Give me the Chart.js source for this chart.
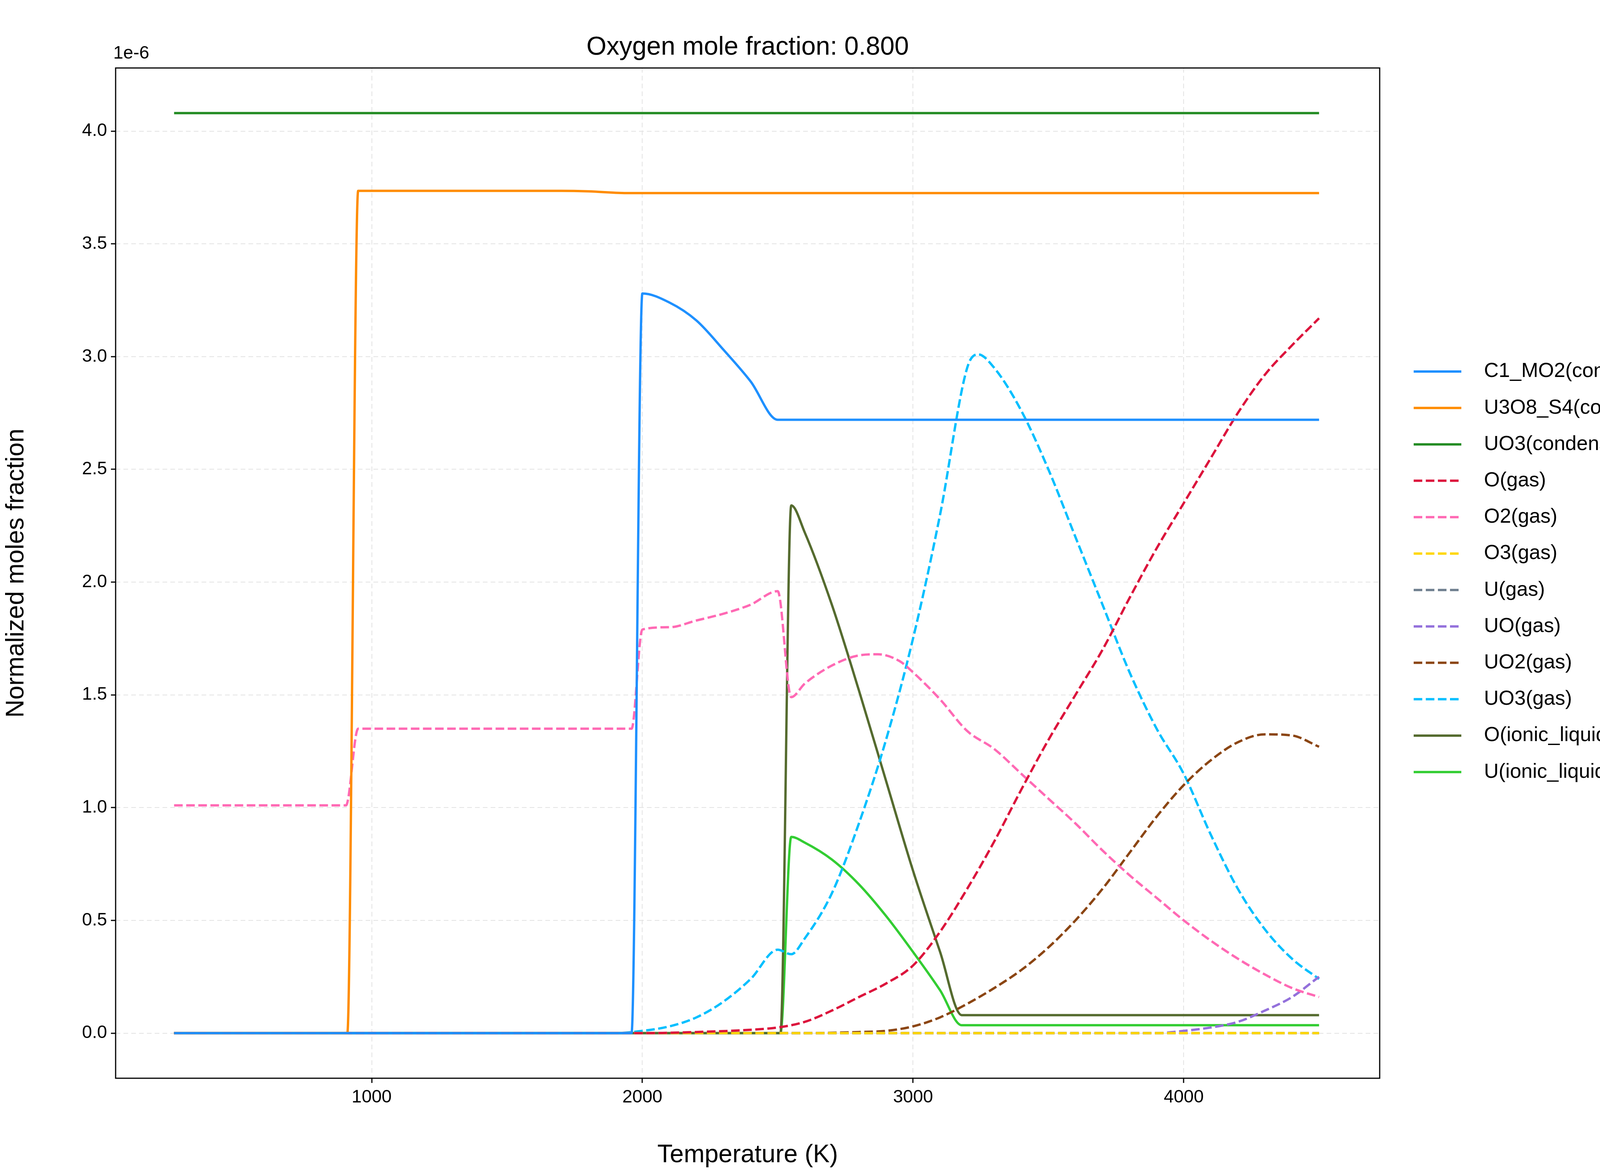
<!DOCTYPE html>
<html><head><meta charset="utf-8">
<script src="https://cdn.jsdelivr.net/npm/chart.js@4"></script>
<style>html,body{margin:0;padding:0;background:#fff;overflow:hidden;width:4500px;height:3000px}#w{width:4500px;height:3000px}canvas{display:block}</style>
</head><body><div id="w"><canvas id="c" width="4500" height="3000" style="width:4500px;height:3000px"></canvas></div>
<script>
const xTicks=[1000,2000,3000,4000];
const yTicks=[0,0.5,1,1.5,2,2.5,3,3.5,4];
const names=["C1_MO2(condensed)","U3O8_S4(condensed)","UO3(condensed)","O(gas)","O2(gas)","O3(gas)","U(gas)","UO(gas)","UO2(gas)","UO3(gas)","O(ionic_liquid)","U(ionic_liquid)"];
const colors=["#1E90FF","#FF8C00","#228B22","#DC143C","#FF69B4","#FFD700","#708090","#9370DB","#8B4513","#00BFFF","#556B2F","#32CD32"];
const dashed=[false,false,false,true,true,true,true,true,true,true,false,false];
const C1_MO2=[[270,0],[1960,0],[2000,3.28],[2100,3.24],[2200,3.16],[2300,3.03],[2400,2.89],[2500,2.72],[4500,2.72]];
const U3O8=[[270,0],[910,0],[950,3.735],[1700,3.735],[1800,3.733],[1950,3.725],[4500,3.725]];
const UO3c=[[270,4.08],[4500,4.08]];
const Ogas=[[270,0],[2000,0],[2200,0.005],[2400,0.015],[2500,0.025],[2600,0.05],[2700,0.1],[2800,0.16],[2900,0.22],[3000,0.3],[3100,0.45],[3200,0.64],[3300,0.85],[3400,1.08],[3500,1.3],[3600,1.5],[3700,1.7],[3800,1.93],[3900,2.15],[4000,2.35],[4100,2.55],[4200,2.75],[4300,2.92],[4400,3.05],[4500,3.17]];
const O2gas=[[270,1.01],[905,1.01],[950,1.35],[1960,1.35],[2000,1.79],[2100,1.8],[2200,1.83],[2300,1.86],[2400,1.9],[2500,1.96],[2550,1.49],[2600,1.55],[2700,1.63],[2800,1.675],[2870,1.68],[2950,1.65],[3000,1.6],[3100,1.48],[3200,1.34],[3300,1.26],[3400,1.15],[3500,1.04],[3600,0.93],[3700,0.81],[3800,0.7],[3900,0.6],[4000,0.5],[4100,0.41],[4200,0.33],[4300,0.26],[4400,0.2],[4500,0.16]];
const O3gas=[[270,0],[4500,0]];
const Ugas=[[270,0],[4500,0]];
const UOgas=[[270,0],[3900,0],[4000,0.01],[4100,0.025],[4200,0.05],[4300,0.1],[4400,0.16],[4500,0.25]];
const UO2gas=[[270,0],[2600,0],[2800,0.005],[2900,0.01],[3000,0.03],[3100,0.07],[3200,0.13],[3300,0.2],[3400,0.28],[3500,0.38],[3600,0.5],[3700,0.64],[3800,0.8],[3900,0.96],[4000,1.1],[4100,1.21],[4200,1.29],[4300,1.325],[4400,1.32],[4500,1.27]];
const UO3gas=[[270,0],[1900,0],[2000,0.01],[2100,0.03],[2200,0.07],[2300,0.14],[2400,0.24],[2500,0.37],[2550,0.35],[2600,0.42],[2700,0.62],[2800,0.93],[2900,1.3],[3000,1.75],[3100,2.3],[3200,2.95],[3240,3.01],[3300,2.95],[3400,2.76],[3500,2.5],[3600,2.2],[3700,1.9],[3800,1.6],[3900,1.35],[4000,1.15],[4100,0.88],[4200,0.64],[4300,0.46],[4400,0.33],[4500,0.24]];
const Oion=[[270,0],[2510,0],[2550,2.34],[2600,2.22],[2700,1.9],[2800,1.52],[2900,1.12],[3000,0.72],[3100,0.36],[3180,0.08],[4500,0.08]];
const Uion=[[270,0],[2510,0],[2550,0.87],[2600,0.845],[2700,0.77],[2800,0.66],[2900,0.52],[3000,0.36],[3100,0.19],[3180,0.035],[4500,0.035]];
const series=[C1_MO2,U3O8,UO3c,Ogas,O2gas,O3gas,Ugas,UOgas,UO2gas,UO3gas,Oion,Uion];
const F="'Liberation Sans', Arial, sans-serif";
const datasets=series.map((s,i)=>({label:names[i],data:s.map(p=>({x:p[0],y:p[1]})),borderColor:colors[i],borderWidth:6,borderDash:dashed[i]?[22,9]:[],pointRadius:0,cubicInterpolationMode:'monotone',fill:false}));
const extra={id:'extra',afterDraw(ch){const c=ch.ctx,a=ch.chartArea;c.save();c.strokeStyle='#000';c.lineWidth=3;c.setLineDash([]);c.strokeRect(a.left,a.top,a.right-a.left,a.bottom-a.top);
c.fillStyle='#000';c.font="46px "+F;c.textBaseline='alphabetic';c.fillText('1e-6',290,150);
c.font="66px "+F;c.textAlign='center';c.fillText('Oxygen mole fraction: 0.800',(a.left+a.right)/2,140);
c.textAlign='left';c.textBaseline='middle';c.font="52px "+F;
names.forEach((n,i)=>{const y=951+i*93.2;c.strokeStyle=colors[i];c.lineWidth=6;c.setLineDash(dashed[i]?[22,9]:[]);c.beginPath();c.moveTo(3619,y);c.lineTo(3741,y);c.stroke();c.fillStyle='#000';c.fillText(n,3799,y);});
c.restore();}};
new Chart(document.getElementById('c'),{type:'line',data:{datasets},plugins:[extra],
options:{responsive:false,maintainAspectRatio:false,animation:false,devicePixelRatio:1,
layout:{padding:{top:174,right:968,left:0,bottom:0}},
plugins:{legend:{display:false},title:{display:false},tooltip:{enabled:false}},
scales:{x:{type:'linear',min:54,max:4724,afterBuildTicks(s){s.ticks=xTicks.map(v=>({value:v}));},
afterFit(s){s.height=240;},
ticks:{font:{size:46,family:F},color:'#000',padding:10,maxRotation:0,callback:v=>String(v)},
grid:{color:'#e3e3e3',lineWidth:2,tickColor:'#000',tickLength:12,tickWidth:3},border:{dash:[12,8],display:false},
title:{display:true,text:'Temperature (K)',font:{size:64,family:F},color:'#000',padding:{top:4}}},
y:{type:'linear',min:-0.2,max:4.28,afterBuildTicks(s){s.ticks=yTicks.map(v=>({value:v}));},
afterFit(s){s.width=296;},
ticks:{font:{size:46,family:F},color:'#000',padding:10,callback:v=>v.toFixed(1)},
grid:{color:'#e3e3e3',lineWidth:2,tickColor:'#000',tickLength:12,tickWidth:3},border:{dash:[12,8],display:false},
title:{display:true,text:'Normalized moles fraction',font:{size:64,family:F},color:'#000',padding:{bottom:10}}}}}});
</script></body></html>
